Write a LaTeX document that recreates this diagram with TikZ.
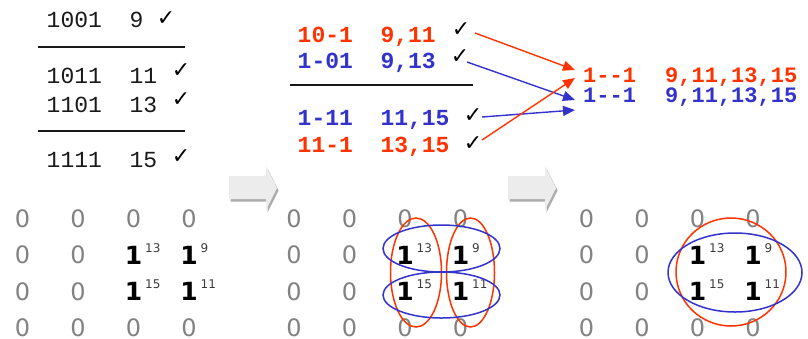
\documentclass[tikz,border=0pt]{standalone}
\usepackage{fontspec}
\setmonofont{Liberation Mono}
\newfontfamily\dvsans{DejaVu Sans}
\usetikzlibrary{arrows.meta}
\definecolor{kred}{RGB}{255,51,0}
\definecolor{kblue}{RGB}{51,51,204}
\definecolor{tblk}{RGB}{25,25,25}
\definecolor{zgray}{RGB}{130,130,130}
\begin{document}
\begin{tikzpicture}[x=1pt,y=-1pt,
  tab/.style={font=\fontsize{23}{23}\selectfont\ttfamily, text=tblk, inner sep=0pt, anchor=base west},
  btab/.style={font=\fontsize{23}{23}\selectfont\ttfamily\bfseries, inner sep=0pt, anchor=base west},
  rtab/.style={font=\fontsize{22}{22}\selectfont\ttfamily\bfseries, inner sep=0pt, anchor=base west},
  chk/.style={font=\fontsize{22}{22}\selectfont\dvsans, text=black, inner sep=0pt},
  tabrule/.style={line width=2pt, draw=tblk},
  zero/.style={font=\fontsize{24}{24}\selectfont\dvsans, text=zgray, inner sep=0pt},
  one/.style={font=\fontsize{25}{25}\selectfont\dvsans\bfseries, text=black, inner sep=0pt},
  supnum/.style={font=\fontsize{12}{12}\selectfont\dvsans, text=tblk!85, inner sep=0pt, anchor=base west},
  conn/.style={line width=1.4pt, -{Triangle[length=12pt,width=10pt]}},
  ring/.style={line width=1.5pt},
  blockarrow/.style={fill=gray!15},
  blockshadow/.style={fill=gray!65}]
\useasboundingbox (0,0) rectangle (808,338);

% ---- left table ----
\node[tab] (l1a) at (46.5,27) {1001};
\node[tab] (l1b) at (129.3,27) {9};
\node[chk] (l1c) at (166,19) {✓};
\draw[tabrule] (38,47) -- (185,47);
\node[tab] (l2a) at (46.5,83) {1011};
\node[tab] (l2b) at (129.3,83) {11};
\node[chk] (l2c) at (181,71) {✓};
\node[tab] (l3a) at (46.5,112) {1101};
\node[tab] (l3b) at (129.3,112) {13};
\node[chk] (l3c) at (181,100) {✓};
\draw[tabrule] (38,131) -- (185,131);
\node[tab] (l4a) at (46.5,167) {1111};
\node[tab] (l4b) at (129.3,167) {15};
\node[chk] (l4c) at (181,157) {✓};

% ---- middle table ----
\node[btab,text=kred] (m1a) at (297.5,42) {10-1};
\node[btab,text=kred] (m1b) at (380.3,42) {9,11};
\node[chk] (m1c) at (461,30) {✓};
\node[btab,text=kblue] (m2a) at (297.5,68) {1-01};
\node[btab,text=kblue] (m2b) at (380.3,68) {9,13};
\node[chk] (m2c) at (460,57) {✓};
\draw[tabrule] (290,85) -- (473,85);
\node[btab,text=kblue] (m3a) at (297.5,125) {1-11};
\node[btab,text=kblue] (m3b) at (380.3,125) {11,15};
\node[chk] (m3c) at (473,116) {✓};
\node[btab,text=kred] (m4a) at (297.5,152) {11-1};
\node[btab,text=kred] (m4b) at (380.3,152) {13,15};
\node[chk] (m4c) at (473,144) {✓};

% ---- right results ----
\node[rtab,text=kred] (r1a) at (583,82) {1--1};
\node[rtab,text=kred] (r1b) at (665,82) {9,11,13,15};
\node[rtab,text=kblue] (r2a) at (583,102) {1--1};
\node[rtab,text=kblue] (r2b) at (665,102) {9,11,13,15};

% ---- arrows ----
\coordinate (r1s) at (475,33);  \coordinate (r1e) at (575,70);
\coordinate (b1s) at (467,62);  \coordinate (b1e) at (575,100);
\coordinate (b2s) at (482,117); \coordinate (b2e) at (575,110);
\coordinate (r2s) at (482,140); \coordinate (r2e) at (575,78);
\draw[conn,kblue] (b1s) -- (b1e);
\draw[conn,kblue] (b2s) -- (b2e);
\draw[conn,kred] (r1s) -- (r1e);
\draw[conn,kred] (r2s) -- (r2e);

% ---- block arrows ----
\foreach \x in {229,508}{
  \fill[blockshadow,shift={(1.5,2.5)}] (\x,176) -- (\x+37,176) -- (\x+37,166) -- (\x+48,188)
     -- (\x+37,210) -- (\x+37,199) -- (\x,199) -- cycle;
  \fill[blockarrow] (\x,176) -- (\x+37,176) -- (\x+37,166) -- (\x+48,188)
     -- (\x+37,210) -- (\x+37,199) -- (\x,199) -- cycle;
}

% ---- K-maps ----
\foreach \g/\ox in {ka/0,kb/271.5,kc/564}{
  \foreach \r in {1,...,4}{
    \foreach \c in {1,...,4}{
      \pgfmathsetmacro\px{\ox+22.5+55.5*(\c-1)}
      \pgfmathsetmacro\py{218.5+36.5*(\r-1)}
      \pgfmathtruncatemacro\isone{((\r==2)||(\r==3))&&(\c>=3)}
      \ifnum\isone=1
        \node[one] (\g-\r-\c) at (\px,\py) {1};
      \else
        \node[zero] (\g-\r-\c) at (\px,\py) {0};
      \fi
    }
  }
  \node[supnum] (\g-s13) at (\ox+145,252) {13};
  \node[supnum] (\g-s9)  at (\ox+200.5,252) {9};
  \node[supnum] (\g-s15) at (\ox+145,288) {15};
  \node[supnum] (\g-s11) at (\ox+200.5,288) {11};
}

% ---- loops ----
\draw[ring,kred] (416,272.5) ellipse [x radius=25.5, y radius=54.5];
\draw[ring,kred] (470.5,272.5) ellipse [x radius=24, y radius=54.5];
\draw[ring,kblue] (441.5,248.5) ellipse [x radius=58.5, y radius=23.5];
\draw[ring,kblue] (441.5,295) ellipse [x radius=58.5, y radius=23];
\draw[ring,kred] (731,272) ellipse [x radius=55, y radius=54];
\draw[ring,kblue] (735,272.5) ellipse [x radius=67, y radius=39.5];
\end{tikzpicture}
\end{document}
